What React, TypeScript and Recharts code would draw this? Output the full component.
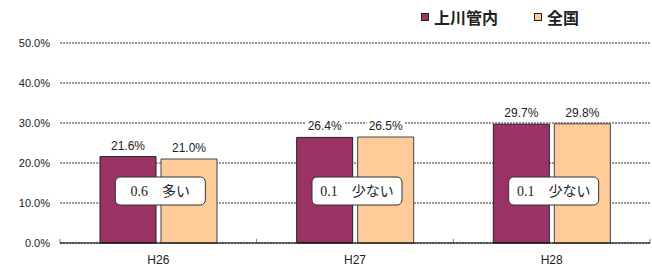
import { BarChart, Bar, XAxis, YAxis, CartesianGrid, Legend, LabelList, ReferenceDot, ReferenceLine } from 'recharts';

const years = ['H26', 'H27', 'H28'];
const kamikawa = [21.6, 26.4, 29.7];
const zenkoku = [21.0, 26.5, 29.8];
const notes = ['0.6\u3000多い', '0.1\u3000少ない', '0.1\u3000少ない'];
const noteLevel = 13;
const yTicks = [0, 10, 20, 30, 40, 50];

const PURPLE = '#993366';
const ORANGE = '#FFCC99';

const data = years.map((y, i) => ({ year: y, kamikawa: kamikawa[i], zenkoku: zenkoku[i] }));

const pct = (v: any) => `${Number(v).toFixed(1)}%`;

// value label with a white backing, so the gridline breaks around it
function ValueLabel(props: any) {
  const { x, y, width, value } = props;
  const cx = x + width / 2;
  const base = y - 7;
  return (
    <g>
      <rect x={cx - 19} y={base - 12} width={38} height={14} fill="#fff" />
      <text x={cx} y={base} textAnchor="middle" fontSize={12} fill="#222">
        {pct(value)}
      </text>
    </g>
  );
}

// rounded text box like the Excel callouts
function NoteBox(props: any) {
  const { cx, cy, text } = props;
  const w = 90;
  const h = 28;
  return (
    <g>
      <rect x={cx - w / 2 + 2} y={cy - h / 2} width={w} height={h} rx={5} ry={5} fill="#fff" stroke="#333" strokeWidth={1} />
      <text x={cx + 2} y={cy + 5} textAnchor="middle" fontSize={14} fontFamily="'Liberation Serif', 'Noto Sans CJK JP', serif" fill="#222">
        {text}
      </text>
    </g>
  );
}

// short upward tick at the category boundary
function BoundaryTick(props: any) {
  const x = props.x1;
  const bottom = Math.max(props.y1, props.y2);
  return <line x1={x} x2={x} y1={bottom} y2={bottom - 4} stroke="#777" strokeWidth={1} />;
}

function LegendBox({ payload }: any) {
  return (
    <div style={{ display: 'flex', gap: 36, fontFamily: "'Noto Sans CJK JP', sans-serif", fontWeight: 700, fontSize: 16, color: '#222' }}>
      {(payload || []).map((p: any) => (
        <div key={p.value} style={{ display: 'flex', alignItems: 'center' }}>
          <span style={{ width: 6, height: 6, background: p.color, border: '1px solid #222', marginRight: 5 }} />
          <span>{p.value}</span>
        </div>
      ))}
    </div>
  );
}

export default function App() {
  return (
    <div style={{ position: 'absolute', left: 0, top: 0, width: 652, height: 271, background: '#fff' }}>
      <BarChart
        width={652}
        height={271}
        data={data}
        margin={{ top: 43, right: 2, bottom: 0, left: 0 }}
        barSize={56}
        barGap={5}
        style={{ fontFamily: "'Liberation Sans', Arial, sans-serif" }}
      >
        <CartesianGrid vertical={false} stroke="#333" strokeDasharray="2 1" strokeWidth={1} />
        <XAxis
          dataKey="year"
          height={28}
          axisLine={{ stroke: '#000', strokeWidth: 1.2 }}
          tickLine={false}
          tick={{ fontSize: 12, fill: '#222' }}
          tickMargin={6}
        />
        <YAxis
          width={60}
          domain={[0, 50]}
          ticks={yTicks}
          tickFormatter={pct}
          axisLine={false}
          tickLine={false}
          tickMargin={4}
          tick={{ fontSize: 11, fill: '#222' }}
        />
        <Legend
          verticalAlign="middle"
          align="center"
          wrapperStyle={{ top: 5, left: 421, width: 'auto' }}
          content={<LegendBox />}
        />
        <Bar dataKey="kamikawa" name="上川管内" fill={PURPLE} stroke="#222" strokeWidth={1} isAnimationActive={false}>
          <LabelList dataKey="kamikawa" content={<ValueLabel />} />
        </Bar>
        <Bar dataKey="zenkoku" name="全国" fill={ORANGE} stroke="#444" strokeWidth={1} isAnimationActive={false}>
          <LabelList dataKey="zenkoku" content={<ValueLabel />} />
        </Bar>
        {years.map((y) => (
          <ReferenceLine key={`b-${y}`} x={y} position="start" stroke="none" shape={<BoundaryTick />} />
        ))}
        <ReferenceLine x={years[years.length - 1]} position="end" stroke="none" shape={<BoundaryTick />} />
        {years.map((y, i) => (
          <ReferenceDot key={`n-${y}`} x={y} y={noteLevel} r={1} shape={<NoteBox text={notes[i]} />} />
        ))}
      </BarChart>
    </div>
  );
}
